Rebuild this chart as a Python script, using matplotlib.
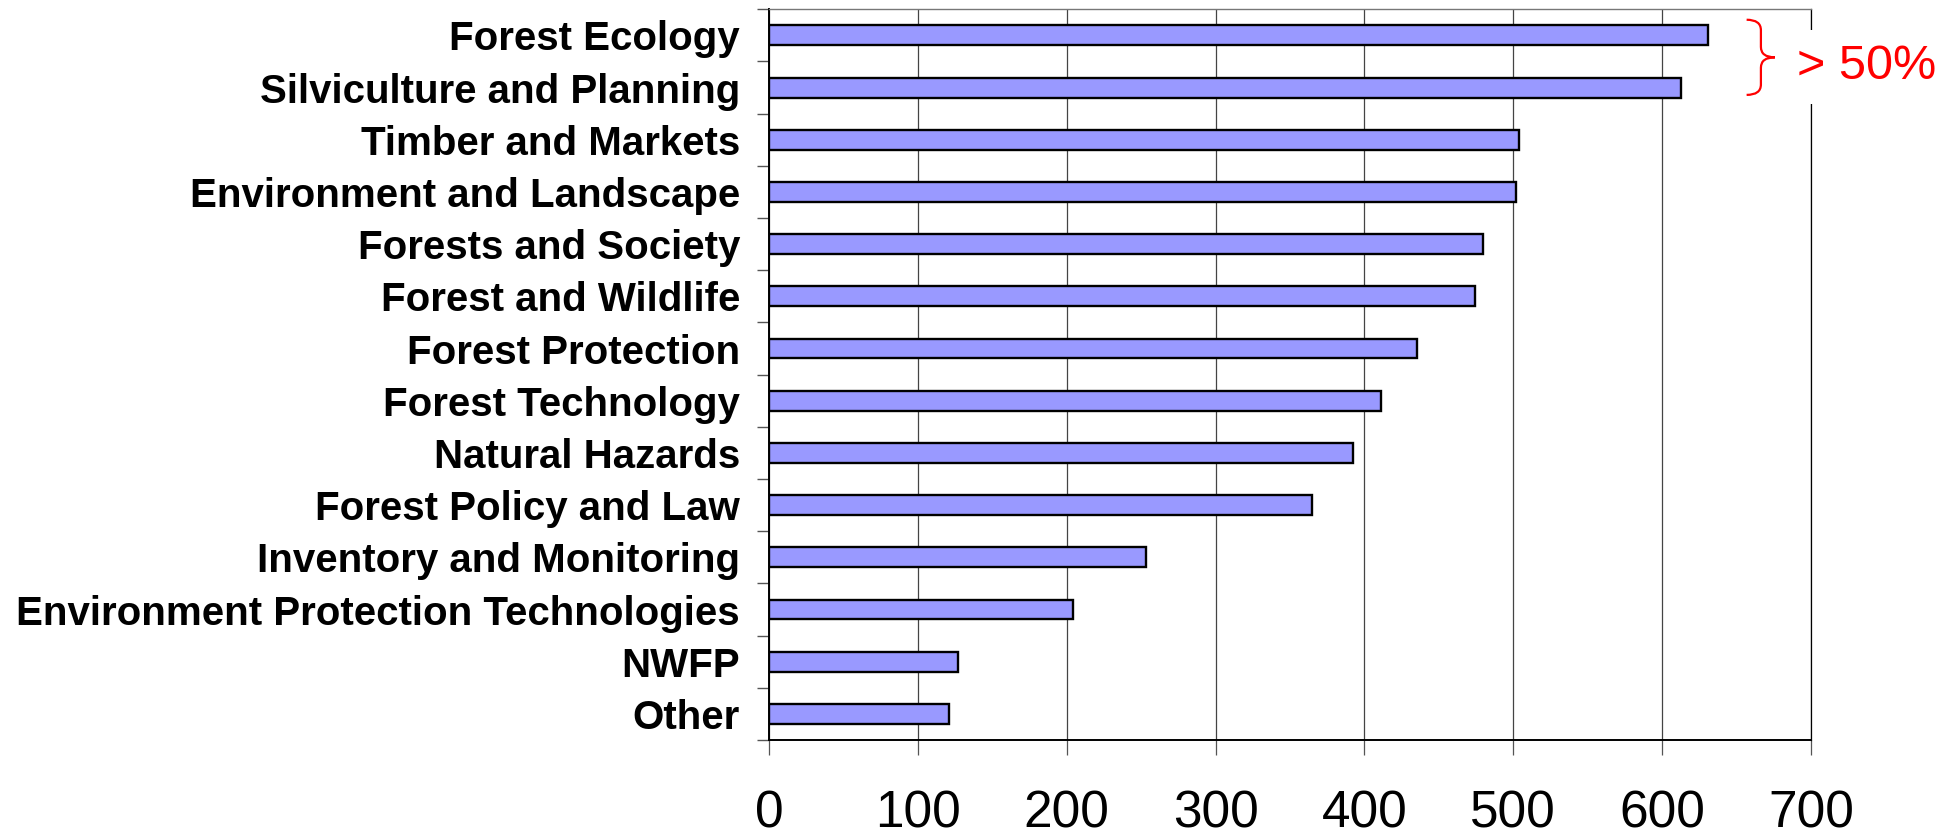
import matplotlib
matplotlib.use("Agg")
import matplotlib.pyplot as plt
import numpy as np
from matplotlib.path import Path
from matplotlib.patches import PathPatch

plt.rcParams['font.family'] = ['Liberation Sans', 'DejaVu Sans']

# Number of responses per subject area
topics = [
    "Forest Ecology",
    "Silviculture and Planning",
    "Timber and Markets",
    "Environment and Landscape",
    "Forests and Society",
    "Forest and Wildlife",
    "Forest Protection",
    "Forest Technology",
    "Natural Hazards",
    "Forest Policy and Law",
    "Inventory and Monitoring",
    "Environment Protection Technologies",
    "NWFP",
    "Other",
]
counts = [631, 613, 504, 502, 480, 474, 435, 411, 392, 365, 253, 204, 127, 121]
x_ticks = [0, 100, 200, 300, 400, 500, 600, 700]

fig = plt.figure(figsize=(19.51, 8.31), dpi=100)
ax = fig.add_axes([0.3942, 0.1095, 0.5340, 0.8793])

y = np.arange(len(topics))
ax.barh(y, counts, height=0.38, color="#9999FF", edgecolor="black",
        linewidth=1.7, zorder=3)

ax.set_xlim(0, 700)
ax.set_ylim(len(topics) - 0.5, -0.5)

# category labels sit between the small separator ticks
ax.set_yticks(y)
ax.set_yticklabels(topics, fontsize=29, fontweight="bold")
ax.set_yticks(np.arange(len(topics) + 1) - 0.5, minor=True)
ax.tick_params(axis="y", which="major", length=0, pad=21)
ax.tick_params(axis="y", which="minor", length=8.6, width=1.0, color="#555555")

ax.set_xticks(x_ticks)
ax.set_xticklabels([str(v) for v in x_ticks], fontsize=37)
ax.tick_params(axis="x", length=10.8, width=0.9, color="#555555", pad=25)

ax.grid(axis="x", color="#444444", linewidth=0.9, zorder=0)
ax.set_axisbelow(True)

ax.spines["left"].set_linewidth(1.4)
ax.spines["bottom"].set_linewidth(1.4)
ax.spines["top"].set_color("#777777")
ax.spines["top"].set_linewidth(1.0)
ax.spines["right"].set_linewidth(0.9)

# curly brace grouping the two leading topics
xl, xm, xr = 656.8, 666.4, 675.8
yt, ym, yb = -0.3, 0.42, 1.14
c = 0.2
verts = [
    (xl, yt), (xm, yt), (xm, yt + c),
    (xm, ym - c), (xm, ym), (xr, ym),
    (xm, ym), (xm, ym + c),
    (xm, yb - c), (xm, yb), (xl, yb),
]
codes = [
    Path.MOVETO, Path.CURVE3, Path.CURVE3,
    Path.LINETO, Path.CURVE3, Path.CURVE3,
    Path.CURVE3, Path.CURVE3,
    Path.LINETO, Path.CURVE3, Path.CURVE3,
]
brace = PathPatch(Path(verts, codes), facecolor="none", edgecolor="red",
                  linewidth=1.6, clip_on=False, zorder=5)
ax.add_patch(brace)

ax.text(690.5, 0.6, "> 50%", color="red", fontsize=35, va="center",
        ha="left", clip_on=False, zorder=6,
        bbox=dict(facecolor="white", edgecolor="none", boxstyle="square,pad=0.3"))

fig.savefig("out.png", dpi=100)
